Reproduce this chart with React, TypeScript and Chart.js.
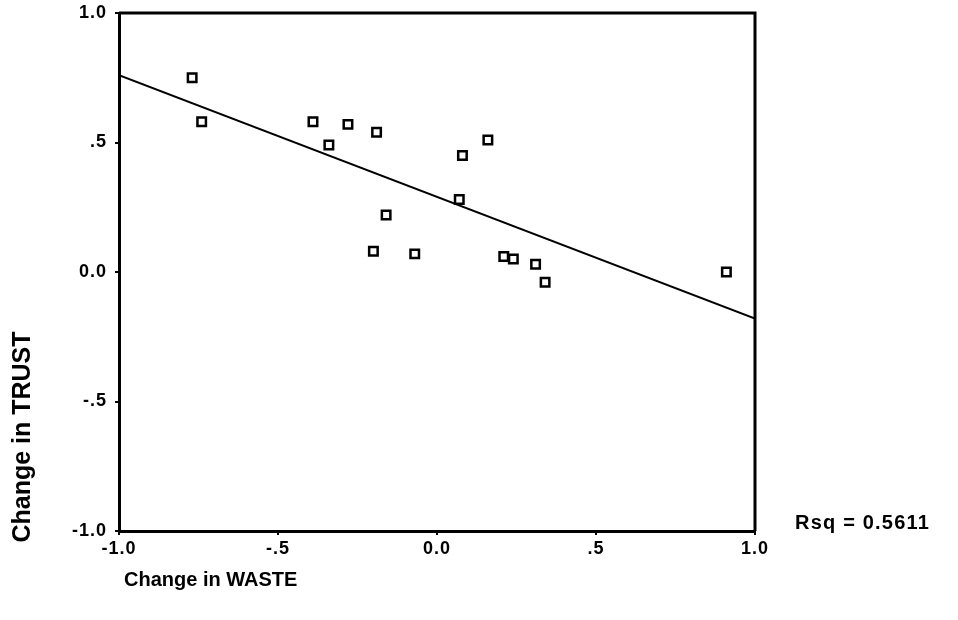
import React, { useEffect, useRef } from "react";
import { Chart, registerables } from "chart.js";

Chart.register(...registerables);

// Data
const wasteChange = [-0.77, -0.74, -0.39, -0.28, -0.19, -0.34, 0.16, 0.08, 0.07, -0.16, -0.2, -0.07, 0.21, 0.24, 0.31, 0.34, 0.91];
const trustChange = [0.75, 0.58, 0.58, 0.57, 0.54, 0.49, 0.51, 0.45, 0.28, 0.22, 0.08, 0.07, 0.06, 0.05, 0.03, -0.04, 0.0];

// Fitted regression line endpoints
const fitX = [-1.0, 1.0];
const fitY = [0.76, -0.18];

const tickValues = [-1.0, -0.5, 0.0, 0.5, 1.0];
const tickLabels = ["-1.0", "-.5", "0.0", ".5", "1.0"];

const xTitle = "Change in WASTE";
const yTitle = "Change in TRUST";
const rsqLabel = "Rsq = 0.5611";

const FONT = "'Liberation Sans', Arial, sans-serif";

function tickLabel(v: number): string {
  const i = tickValues.findIndex((t) => Math.abs(t - v) < 1e-6);
  return i >= 0 ? tickLabels[i] : "";
}

const spacingPlugin = {
  id: "spacing",
  beforeDraw(chart: any) {
    chart.ctx.letterSpacing = "1px";
  },
};

const framePlugin = {
  id: "frameAndText",
  afterDraw(chart: any) {
    const { ctx, chartArea } = chart;
    const { left, top, right, bottom } = chartArea;
    ctx.save();
    ctx.strokeStyle = "#000";
    ctx.lineWidth = 3;
    ctx.beginPath();
    ctx.moveTo(left, top);
    ctx.lineTo(right, top);
    ctx.lineTo(right, bottom);
    ctx.stroke();

    ctx.fillStyle = "#000";
    ctx.letterSpacing = "0px";
    ctx.font = `bold 20px ${FONT}`;
    ctx.textAlign = "left";
    ctx.textBaseline = "middle";
    ctx.fillText(xTitle, 124, 580);

    ctx.letterSpacing = "1.2px";
    ctx.font = `bold 20px ${FONT}`;
    ctx.fillText(rsqLabel, 795, 523);

    ctx.save();
    ctx.letterSpacing = "0px";
    ctx.translate(23, 437);
    ctx.rotate(-Math.PI / 2);
    ctx.textAlign = "center";
    ctx.font = `bold 25px ${FONT}`;
    ctx.fillText(yTitle, 0, 0);
    ctx.restore();
    ctx.restore();
  },
};

export default function App() {
  const ref = useRef<HTMLCanvasElement>(null);

  useEffect(() => {
    if (!ref.current) return;
    const points = wasteChange.map((x, i) => ({ x, y: trustChange[i] }));
    const line = fitX.map((x, i) => ({ x, y: fitY[i] }));
    const chart = new Chart(ref.current, {
      type: "scatter",
      data: {
        datasets: [
          {
            data: points,
            pointStyle: "rect",
            pointRadius: 6,
            pointBorderWidth: 2.5,
            pointBorderColor: "#000",
            pointBackgroundColor: "#fff",
            showLine: false,
          },
          {
            data: line,
            showLine: true,
            borderColor: "#000",
            borderWidth: 2,
            pointRadius: 0,
            fill: false,
          },
        ],
      },
      options: {
        animation: false,
        responsive: false,
        layout: { padding: { left: 0, top: 13, right: 203, bottom: 0 } },
        plugins: { legend: { display: false }, tooltip: { enabled: false } },
        scales: {
          x: {
            type: "linear",
            min: -1,
            max: 1,
            afterBuildTicks: (s: any) => {
              s.ticks = tickValues.map((v) => ({ value: v }));
            },
            afterFit: (s: any) => {
              s.height = 89;
              s.paddingLeft = 0;
              s.paddingRight = 0;
            },
            grid: { drawOnChartArea: false, drawTicks: true, tickLength: 4, color: "#000", lineWidth: 2 },
            border: { display: true, color: "#000", width: 3 },
            ticks: {
              color: "#000",
              padding: 3,
              font: { family: FONT, size: 18, weight: "bold" },
              callback: (v: any) => tickLabel(Number(v)),
              maxRotation: 0,
            },
          },
          y: {
            type: "linear",
            min: -1,
            max: 1,
            afterBuildTicks: (s: any) => {
              s.ticks = tickValues.map((v) => ({ value: v }));
            },
            afterFit: (s: any) => {
              s.width = 119;
              s.paddingTop = 0;
              s.paddingBottom = 0;
            },
            grid: { drawOnChartArea: false, drawTicks: true, tickLength: 4, color: "#000", lineWidth: 2 },
            border: { display: true, color: "#000", width: 3 },
            ticks: {
              color: "#000",
              padding: 8,
              font: { family: FONT, size: 18, weight: "bold" },
              callback: (v: any) => tickLabel(Number(v)),
            },
          },
        },
      },
      plugins: [spacingPlugin, framePlugin],
    } as any);
    return () => chart.destroy();
  }, []);

  return (
    <div style={{ position: "absolute", left: 0, top: 0, width: 958, height: 620, background: "#fff" }}>
      <canvas ref={ref} width={958} height={620} style={{ display: "block" }} />
    </div>
  );
}
